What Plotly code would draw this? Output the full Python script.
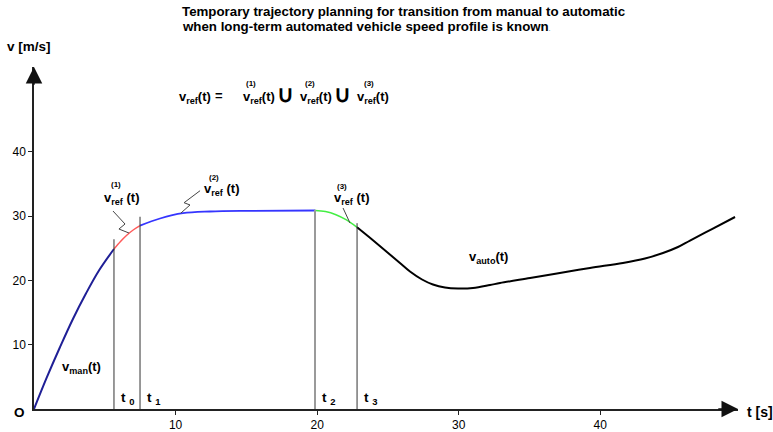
import plotly.graph_objects as go

FONT = "Liberation Sans, Arial, sans-serif"

# Speed profile pieces, t in seconds, v in m/s
t_man = [0.0, 0.92, 1.84, 2.75, 3.67, 4.59, 5.65]
v_man = [0.0, 4.98, 9.64, 14.0, 17.96, 21.54, 24.88]

t_ref1 = [5.65, 6.11, 6.57, 7.03, 7.49]
v_ref1 = [24.88, 26.06, 27.06, 27.88, 28.52]

t_ref2 = [7.49, 8.90, 10.52, 12.43, 15.26, 19.85]
v_ref2 = [28.52, 29.63, 30.45, 30.72, 30.82, 30.87]

t_ref3 = [19.85, 20.59, 21.33, 22.07, 22.82]
v_ref3 = [30.87, 30.71, 30.22, 29.40, 28.26]

t_auto = [22.82, 23.88, 24.93, 25.85, 26.56, 27.41, 28.18, 29.03, 29.95, 31.01,
          32.21, 32.92, 35.04, 36.94, 39.27, 41.60, 43.16, 44.43, 45.49, 46.34,
          47.89, 49.52]
v_auto = [28.26, 26.36, 24.42, 22.71, 21.38, 20.14, 19.36, 18.89, 18.74, 18.82,
          19.28, 19.59, 20.37, 21.07, 21.93, 22.71, 23.41, 24.26, 25.19, 26.20,
          27.99, 29.86]

# Switching instants t0..t3 and the height of their marker lines
t_switch = [5.65, 7.49, 19.85, 22.82]
switch_top = [26.4, 29.9, 31.0, 28.9]
switch_names = ["0", "1", "2", "3"]
switch_colors = ["#333333", "#333333", "#9a9a9a", "#333333"]
switch_widths = [1, 1, 2, 1]

# Zig-zag leader lines from the piece labels to the curve
lead1_t = [5.58, 6.43, 6.00, 6.71]
lead1_v = [30.79, 28.77, 27.99, 27.37]
lead2_t = [11.73, 10.60, 11.02, 10.36]
lead2_v = [33.95, 32.08, 31.73, 30.44]
lead3_t = [21.83, 22.32]
lead3_v = [31.26, 28.93]

x_ticks = [10, 20, 30, 40]
y_ticks = [10, 20, 30, 40]

X_MAX = 49.73
Y_MAX = 53.19

fig = go.Figure()

segments = [
    (t_man, v_man, "#1f1f96", 2),
    (t_ref1, v_ref1, "#ff5a5a", 1.5),
    (t_ref2, v_ref2, "#3535ff", 1.8),
    (t_ref3, v_ref3, "#44ee44", 1.5),
    (t_auto, v_auto, "#000000", 2),
]
for tt, vv, col, w in segments:
    fig.add_trace(go.Scatter(x=tt, y=vv, mode="lines",
                             line=dict(color=col, width=w, shape="spline"),
                             hoverinfo="skip", showlegend=False))

for ts, top, col, w in zip(t_switch, switch_top, switch_colors, switch_widths):
    fig.add_trace(go.Scatter(x=[ts, ts], y=[0, top], mode="lines",
                             line=dict(color=col, width=w),
                             hoverinfo="skip", showlegend=False))

for lt, lv in [(lead1_t, lead1_v), (lead2_t, lead2_v), (lead3_t, lead3_v)]:
    fig.add_trace(go.Scatter(x=lt, y=lv, mode="lines",
                             line=dict(color="#444444", width=1),
                             hoverinfo="skip", showlegend=False))

ann = []


def label(text, x, y, size=13, xanchor="left", yanchor="middle", xref="x", yref="y"):
    ann.append(dict(text=text, x=x, y=y, xref=xref, yref=yref, showarrow=False,
                    xanchor=xanchor, yanchor=yanchor,
                    font=dict(family=FONT, size=size, color="black")))


def vref(x, y, sup, sup_x, sup_y):
    label("<b>v<sub>ref</sub> (t)</b>", x, y)
    label("<b>(%s)</b>" % sup, sup_x, sup_y, size=8, xanchor="center")


# Title
label("<b>Temporary trajectory planning for transition from manual to automatic</b>",
      0.2074, 1.163, size=13.3, xref="paper", yref="paper")
label("<b>when long-term automated vehicle speed profile is known</b>"
      "<span style='font-size:6px'>.</span>",
      0.2074, 1.118, size=13.3, xref="paper", yref="paper")

# Axis names and origin (placed in paper space, outside the data range)
label("<b>v [m/s]</b>", -0.041, 1.0585, size=13.5, xref="paper", yref="paper")
label("<b>t [s]</b>", 1.010, -0.008, size=14, xref="paper", yref="paper")
label("<b>O</b>", -0.020, -0.011, size=13.5, xanchor="center",
      xref="paper", yref="paper")

# Union formula
label("<b>v<sub>ref</sub>(t)</b>", 10.10, 48.5)
label("<b>=</b>", 13.07, 48.8, xanchor="center")
label("<b>v<sub>ref</sub>(t)</b>", 14.62, 48.5)
label("<b>∪</b>", 17.77, 49.0, size=23, xanchor="center")
label("<b>v<sub>ref</sub>(t)</b>", 18.65, 48.5)
label("<b>∪</b>", 21.79, 49.0, size=23, xanchor="center")
label("<b>v<sub>ref</sub>(t)</b>", 22.67, 48.5)
for s, sx in zip(["1", "2", "3"], [15.33, 19.53, 23.63]):
    label("<b>(%s)</b>" % s, sx, 50.7, size=8, xanchor="center")

# Piece labels along the curve
vref(4.80, 32.8, "1", 5.79, 34.84)
vref(11.87, 34.2, "2", 12.71, 36.08)
vref(21.05, 32.7, "3", 21.79, 34.53)
label("<b>v<sub>auto</sub>(t)</b>", 30.59, 23.6)
label("<b>v<sub>man</sub>(t)</b>", 1.84, 6.5)

# Switching instant names
for ts, name in zip(t_switch, switch_names):
    label("<b>t <sub>%s</sub></b>" % name, ts + 0.35, 1.6, size=13.5)

# Axis arrowheads
ann.append(dict(x=X_MAX, y=0, ax=X_MAX - 1.5, ay=0, xref="x", yref="y",
                axref="x", ayref="y", showarrow=True, arrowhead=2,
                arrowsize=2.2, arrowwidth=1.5, arrowcolor="#111111", text=""))
ann.append(dict(x=0, y=Y_MAX, ax=0, ay=Y_MAX - 3, xref="x", yref="y",
                axref="x", ayref="y", showarrow=True, arrowhead=2,
                arrowsize=2.2, arrowwidth=1.5, arrowcolor="#111111", text=""))

fig.update_layout(
    width=773, height=432, autosize=False,
    margin=dict(l=34, r=35, t=67, b=23, pad=0),
    paper_bgcolor="white", plot_bgcolor="white",
    font=dict(family=FONT, size=12, color="black"),
    annotations=ann,
    showlegend=False,
)
fig.update_xaxes(range=[0, X_MAX], showgrid=False, zeroline=False,
                 showline=True, linecolor="#222222", linewidth=1.5,
                 ticks="outside", ticklen=4, tickcolor="#222222",
                 tickvals=x_ticks, ticktext=[str(v) for v in x_ticks],
                 tickfont=dict(family=FONT, size=12, color="black"),
                 automargin=False)
fig.update_yaxes(range=[0, Y_MAX], showgrid=False, zeroline=False,
                 showline=True, linecolor="#222222", linewidth=1.5,
                 ticks="outside", ticklen=4, tickcolor="#222222",
                 tickvals=y_ticks, ticktext=[str(v) for v in y_ticks],
                 tickfont=dict(family=FONT, size=12, color="black"),
                 automargin=False)

fig.write_html("out.html")
